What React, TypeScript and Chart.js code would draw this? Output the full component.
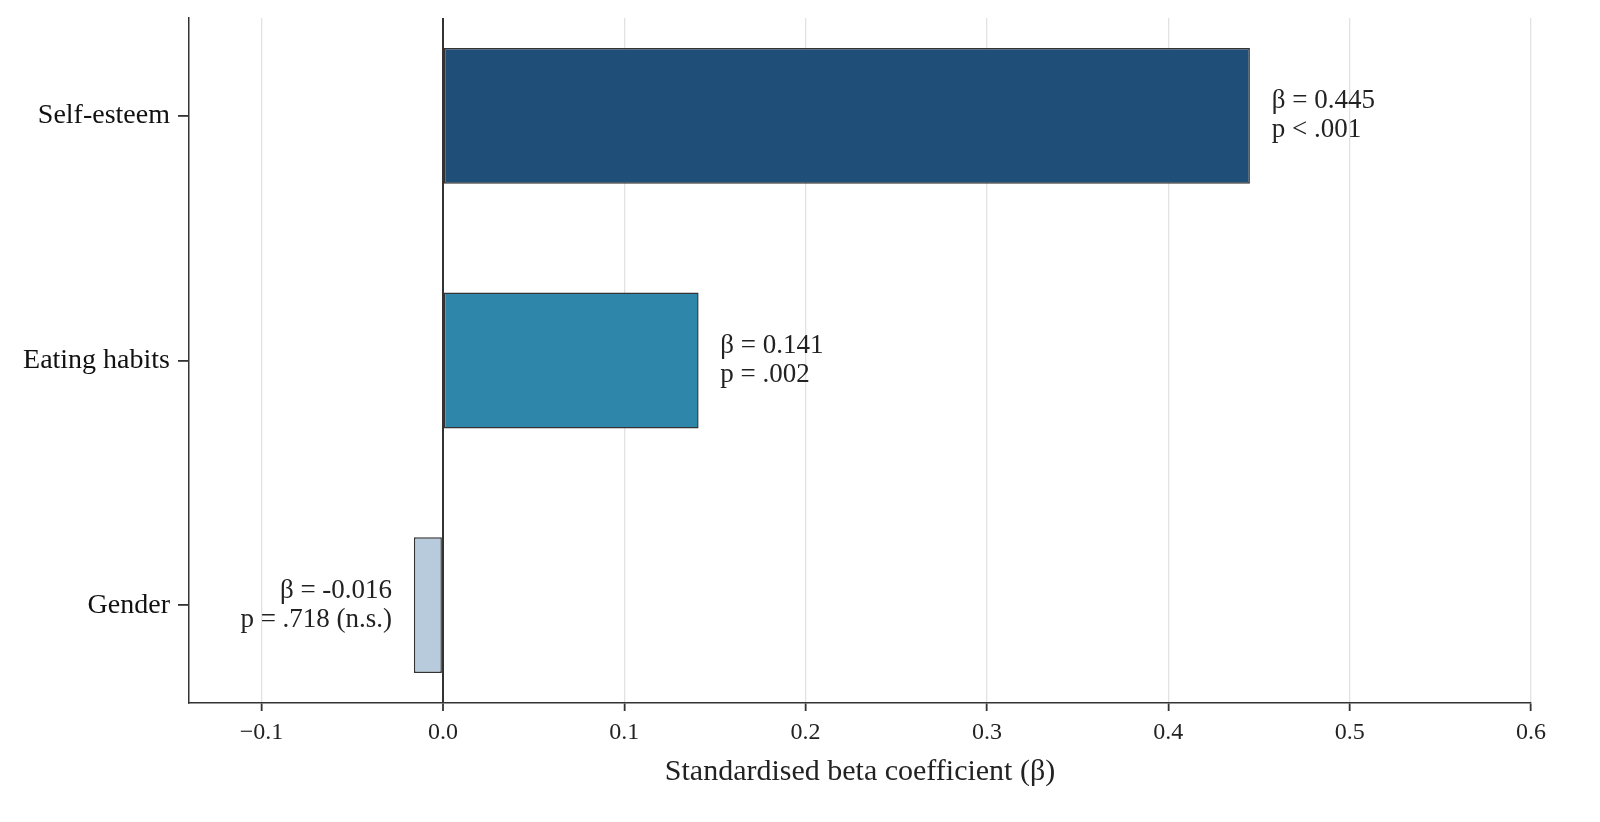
import React, { useEffect, useRef } from 'react';
import Chart from 'chart.js/auto';

const categories = ['Self-esteem', 'Eating habits', 'Gender'];
const betas = [0.445, 0.141, -0.016];
const pLabels = ['p < .001', 'p = .002', 'p = .718 (n.s.)'];
const barColors = ['#1f4e79', '#2e86ab', '#b7cbdd'];
const xTicks = [-0.1, 0, 0.1, 0.2, 0.3, 0.4, 0.5, 0.6];

const FONT = '"Liberation Serif", "Times New Roman", serif';

const labelPlugin = {
  id: 'betaLabels',
  afterDatasetsDraw(chart: any) {
    const { ctx, scales } = chart;
    const meta = chart.getDatasetMeta(0);
    ctx.save();
    ctx.font = `27px ${FONT}`;
    ctx.fillStyle = '#222';
    ctx.textBaseline = 'middle';
    meta.data.forEach((bar: any, i: number) => {
      const v = betas[i];
      const off = v >= 0 ? 0.012 : -0.012;
      const x = scales.x.getPixelForValue(v + off);
      ctx.textAlign = v >= 0 ? 'left' : 'right';
      ctx.fillText(`β = ${v.toFixed(3)}`, x, bar.y - 14.5);
      ctx.fillText(pLabels[i], x, bar.y + 14.5);
    });
    ctx.restore();
  },
};

function BetaChart() {
  const canvasRef = useRef<HTMLCanvasElement>(null);
  const chartRef = useRef<Chart>();

  useEffect(() => {
    if (!canvasRef.current) return;
    if (chartRef.current) chartRef.current.destroy();
    const ctx = canvasRef.current.getContext('2d');
    if (!ctx) return;

    chartRef.current = new Chart(ctx, {
      type: 'bar',
      data: {
        datasets: [
          {
            data: betas.map((b, i) => ({ x: b, y: i })),
            backgroundColor: barColors,
            borderColor: '#333',
            borderWidth: 1.5,
            borderSkipped: false,
            categoryPercentage: 1,
            barPercentage: 0.555,
          },
        ],
      },
      options: {
        indexAxis: 'y',
        responsive: false,
        animation: false,
        events: [],
        layout: { padding: { left: 0, right: 69, top: 18, bottom: 0 } },
        plugins: { legend: { display: false }, tooltip: { enabled: false } },
        scales: {
          x: {
            type: 'linear',
            min: -0.14,
            max: 0.6,
            afterFit: (s: any) => {
              s.height = 119;
              s.paddingLeft = 0;
              s.paddingRight = 0;
            },
            afterBuildTicks: (s: any) => { s.ticks = xTicks.map(v => ({ value: v })); },
            border: { display: true, color: '#333', width: 1.5 },
            grid: {
              color: (c: any) => (c.tick && Math.abs(c.tick.value) < 1e-9 ? '#333' : '#e2e2e2'),
              lineWidth: (c: any) => (c.tick && Math.abs(c.tick.value) < 1e-9 ? 2 : 1.3),
              tickColor: '#333',
              tickLength: 8,
              tickWidth: 1.8,
            },
            ticks: {
              color: '#222',
              padding: 7,
              font: { family: FONT, size: 24 },
              callback: (v: any) => (v < 0 ? '\u2212' + Math.abs(v).toFixed(1) : Number(v).toFixed(1)),
            },
            title: {
              display: true,
              text: 'Standardised beta coefficient (β)',
              color: '#222',
              font: { family: FONT, size: 30 },
              padding: { top: 4, bottom: 32 },
            },
          },
          y: {
            type: 'linear',
            min: -0.4,
            max: 2.4,
            reverse: true,
            offset: false,
            afterFit: (s: any) => {
              s.width = 189;
              s.paddingTop = 0;
              s.paddingBottom = 0;
            },
            afterBuildTicks: (s: any) => { s.ticks = categories.map((_, i) => ({ value: i })); },
            border: { display: true, color: '#333', width: 1.5 },
            grid: {
              offset: false,
              drawOnChartArea: false,
              color: '#333',
              tickColor: '#333',
              tickLength: 11,
              lineWidth: 1.8,
            },
            ticks: {
              color: '#111',
              padding: 8,
              font: { family: FONT, size: 28 },
              callback: (v: any) => categories[Math.round(v)] ?? '',
            },
          },
        },
      },
      plugins: [labelPlugin],
    });

    return () => {
      if (chartRef.current) chartRef.current.destroy();
    };
  }, []);

  return <canvas ref={canvasRef} width={1600} height={822} />;
}

export default function App() {
  return (
    <div style={{ position: 'fixed', left: 0, top: 0, width: 1600, height: 822, background: '#fff' }}>
      <BetaChart />
    </div>
  );
}
